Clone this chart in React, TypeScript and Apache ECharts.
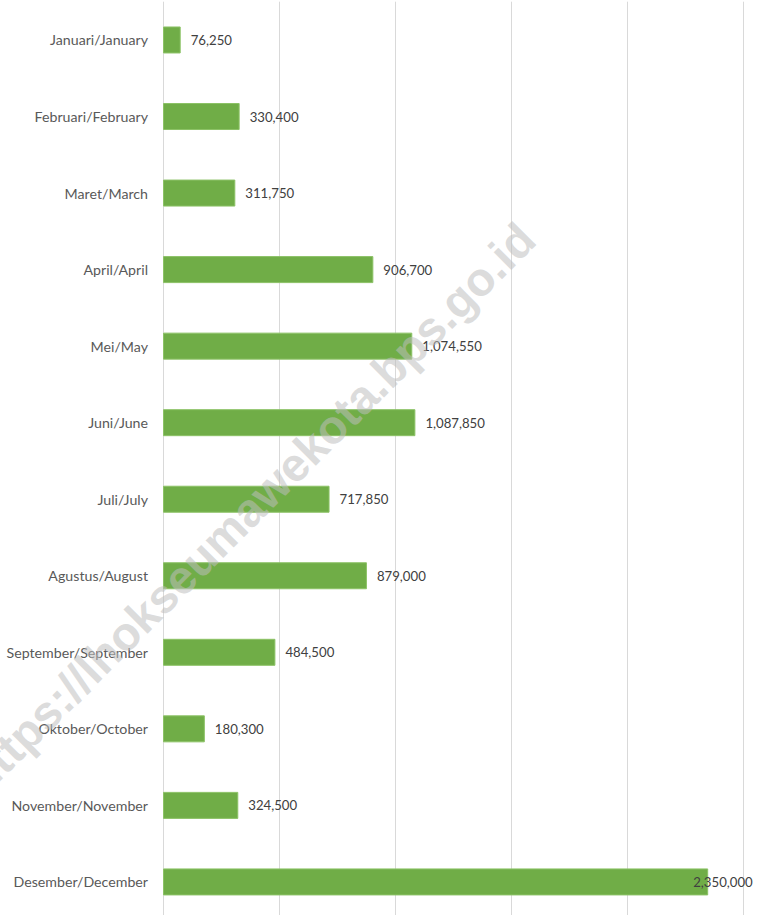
import React, { useEffect, useRef } from "react";
import * as echarts from "echarts";

const categories = [
  "Januari/January",
  "Februari/February",
  "Maret/March",
  "April/April",
  "Mei/May",
  "Juni/June",
  "Juli/July",
  "Agustus/August",
  "September/September",
  "Oktober/October",
  "November/November",
  "Desember/December",
];

const values = [
  76250, 330400, 311750, 906700, 1074550, 1087850, 717850, 879000, 484500,
  180300, 324500, 2350000,
];

const axisMax = 2500000;
const axisInterval = 500000;
const watermark = "https://lhokseumawekota.bps.go.id";

export default function App() {
  const ref = useRef<HTMLDivElement>(null);

  useEffect(() => {
    document.body.style.margin = "0";
    document.body.style.overflow = "hidden";
    if (!ref.current) return;
    const chart = echarts.init(ref.current, undefined, { renderer: "svg" });
    const fmt = (v: number) => v.toLocaleString("en-US");
    chart.setOption({
      animation: false,
      backgroundColor: "#ffffff",
      grid: { left: 163, width: 580, top: 1.7, height: 918.5, containLabel: false },
      xAxis: {
        type: "value",
        min: 0,
        max: axisMax,
        interval: axisInterval,
        axisLabel: { show: false },
        axisLine: { show: false },
        axisTick: { show: false },
        splitLine: { show: true, lineStyle: { color: "#d9d9d9", width: 1 } },
      },
      yAxis: {
        type: "category",
        data: categories,
        inverse: true,
        axisLine: { show: false },
        axisTick: { show: false },
        axisLabel: {
          margin: 15,
          color: "#595959",
          fontFamily: "Lato",
          fontSize: 14.2,
        },
      },
      series: [
        {
          type: "bar",
          barWidth: 27,
          data: values.map((v, i) =>
            i === values.length - 1
              ? { value: v, label: { distance: -15 } }
              : v
          ),
          itemStyle: { color: "#70ad47", borderColor: "#8cc266", borderWidth: 1 },
          label: {
            show: true,
            position: "right",
            distance: 10,
            color: "#404040",
            fontFamily: "Lato",
            fontSize: 13.2,
            formatter: (p: any) => fmt(p.value),
          },
        },
      ],
      graphic: [
        {
          type: "text",
          x: 250,
          y: 508,
          rotation: Math.PI / 4,
          z: 100,
          silent: true,
          style: {
            text: watermark,
            fontFamily: "Liberation Sans",
            fontWeight: "bold",
            fontSize: 47,
            fill: "rgba(190,190,190,0.55)",
            align: "center",
            verticalAlign: "middle",
          },
        },
      ],
    });
    return () => chart.dispose();
  }, []);

  return <div ref={ref} style={{ width: 760, height: 925 }} />;
}
